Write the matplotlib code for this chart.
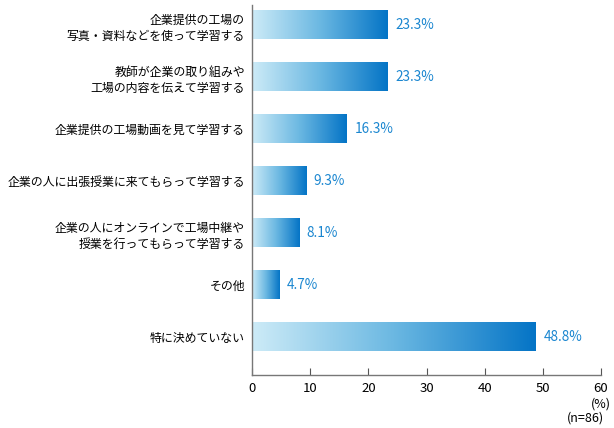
import numpy as np
import matplotlib
matplotlib.use("Agg")
from matplotlib import pyplot as plt
from matplotlib.colors import LinearSegmentedColormap

plt.rcParams['font.family'] = ['Noto Sans CJK JP', 'DejaVu Sans']

labels = ["企業提供の工場の\n写真・資料などを使って学習する",
          "教師が企業の取り組みや\n工場の内容を伝えて学習する",
          "企業提供の工場動画を見て学習する",
          "企業の人に出張授業に来てもらって学習する",
          "企業の人にオンラインで工場中継や\n授業を行ってもらって学習する",
          "その他",
          "特に決めていない"]
values = [23.3, 23.3, 16.3, 9.3, 8.1, 4.7, 48.8]
xticks = [0, 10, 20, 30, 40, 50, 60]

fig = plt.figure(figsize=(6.14, 4.28), dpi=100)
ax = fig.add_axes([252 / 614, 1 - 375 / 428, 349 / 614, 370 / 428])

cmap = LinearSegmentedColormap.from_list("bluegrad", ["#cdebf7", "#6bb8e2", "#0474c6"])
grad = np.linspace(0, 1, 256).reshape(1, -1)
h = 0.54
ypos = np.arange(len(values))

for y, v in zip(ypos, values):
    ax.imshow(grad, cmap=cmap, aspect="auto", extent=[0, v, y + h / 2, y - h / 2],
              interpolation="bilinear", zorder=2)
    ax.text(v + 1.3, y, f"{v}%", color="#1a86d0", fontsize=9.8,
            va="center", ha="left")

ax.set_xlim(0, 60)
ax.set_ylim(6 + 0.73, -0.385)
ax.set_yticks(ypos)
ax.set_yticklabels(labels, fontsize=8.6, linespacing=1.3)
ax.set_xticks(xticks)
ax.set_xticklabels([str(t) for t in xticks], fontsize=9.5)
ax.tick_params(axis="y", length=0, pad=5)
ax.tick_params(axis="x", direction="in", length=5, color="#555555", pad=5)
for s in ["top", "right"]:
    ax.spines[s].set_visible(False)
for s in ["left", "bottom"]:
    ax.spines[s].set_color("#777777")
    ax.spines[s].set_linewidth(1.0)

fig.text(601 / 614, 1 - 404 / 428, "(%)", fontsize=9, ha="center", va="center")
fig.text(604 / 614, 1 - 418 / 428, "(n=86)", fontsize=9, ha="right", va="center")

fig.savefig("out.png", dpi=100)
